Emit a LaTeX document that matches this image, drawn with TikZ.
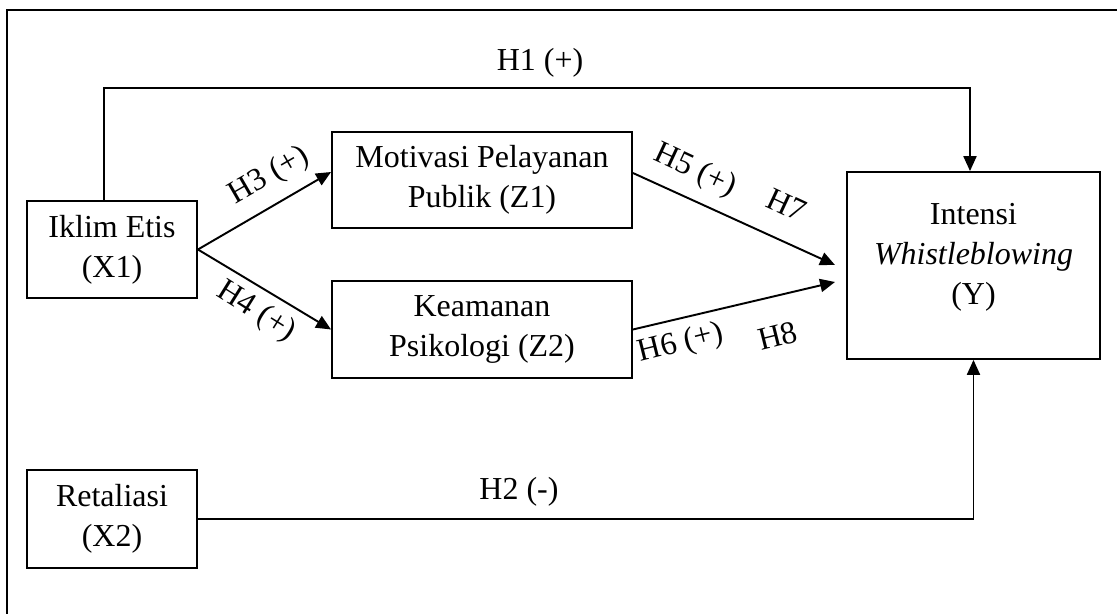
\documentclass[tikz,border=0pt]{standalone}
\usepackage{fontspec}
\setmainfont{Liberation Serif}
\usetikzlibrary{arrows.meta}

\begin{document}
\begin{tikzpicture}[x=0.02cm,y=-0.02cm,
  font=\fontsize{18.2}{22.7}\selectfont,
  varbox/.style={draw,line width=1.1pt,align=center,inner sep=0pt},
  panah/.style={line width=1.1pt,-{Triangle[length=8.5pt,width=7.5pt]}},
  garis/.style={line width=0.8pt,-{Triangle[length=8.5pt,width=7.5pt]}}]

\useasboundingbox (0,0) rectangle (1117,614);

% Bingkai
\draw[line width=1.2pt]
(7,614)
-- (7,10)
-- (1117,10);

% Variabel
\node[varbox,minimum width=3.4cm,minimum height=1.94cm]
(iklim) at (112,249.5)
{Iklim Etis\\(X1)};

\node[varbox,minimum width=6cm,minimum height=1.92cm]
(motiv) at (482,180)
{Motivasi Pelayanan\\Publik (Z1)};

\node[varbox,minimum width=6cm,minimum height=1.94cm]
(keam) at (482,329.5)
{Keamanan\\Psikologi (Z2)};

\node[varbox,minimum width=3.4cm,minimum height=1.96cm]
(retal) at (112,519)
{Retaliasi\\(X2)};

\node[varbox,minimum width=5.06cm,minimum height=3.74cm,text depth=0.46cm]
(intensi) at (973.5,265.5)
{Intensi\\\textit{Whistleblowing}\\(Y)};

% Titik bantu
\coordinate (h1kiri) at (104,88);
\coordinate (h1kanan) at (970,88);
\coordinate (ujung5) at (835,265);
\coordinate (ujung6) at (835,282);

% H1 dan H2
\draw[garis]
(iklim.north -| h1kiri)
-- (h1kiri)
-- (h1kanan)
-- (intensi.north -| h1kanan);

\draw[garis]
(retal.east)
-| (intensi.south);

% Jalur mediasi
\draw[panah]
(iklim.east)
--
([yshift=0.16cm]motiv.west);

\draw[panah]
(iklim.east)
--
(keam.west);

\draw[panah]
([yshift=0.14cm]motiv.east)
--
(ujung5);

\draw[panah]
(keam.east)
--
(ujung6);

% Label hipotesis
\node (lh1) at (540,63) {H1 (+)};
\node (lh2) at (519,492) {H2 (-)};
\node[rotate=30] (lh3) at (269,176) {H3 (+)};
\node[rotate=-32] (lh4) at (256,312) {H4 (+)};
\node[rotate=-25] (lh5) at (695,171) {H5 (+)};
\node[rotate=14] (lh6) at (681,344) {H6 (+)};
\node[rotate=-25] (lh7) at (787,205) {H7};
\node[rotate=14] (lh8) at (778,336) {H8};

\end{tikzpicture}
\end{document}
